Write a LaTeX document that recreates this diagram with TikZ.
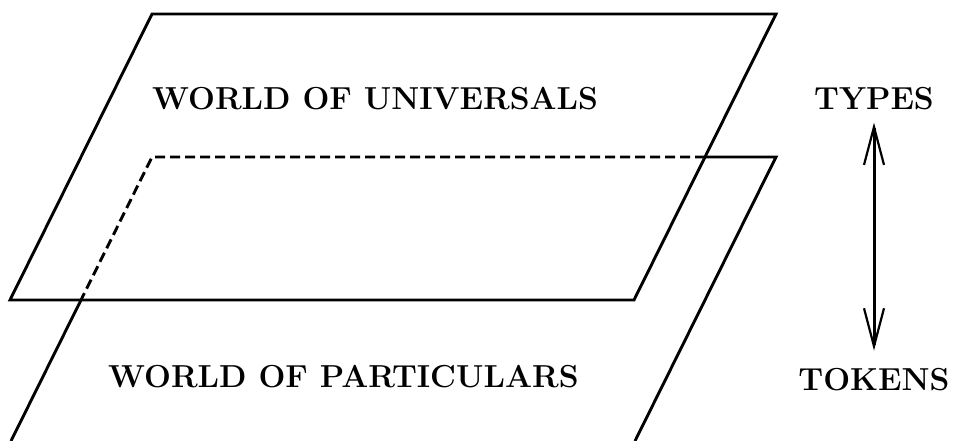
\documentclass[tikz,border=0pt]{standalone}
\usetikzlibrary{arrows.meta,calc,positioning}
\tikzset{
  plane/.style={line width=2.9pt},
  hidden/.style={dash pattern=on 10pt off 5pt},
  label/.style={inner sep=0pt,font=\fontsize{31.8}{38}\selectfont\bfseries}
}
\begin{document}
\begin{tikzpicture}[x=1pt,y=-1pt,>={Straight Barb[length=38pt,width=20pt,line width=2.2pt]}]
\useasboundingbox (0,0) rectangle (954,441);
% upper plane
\coordinate (U1) at (152,14);
\coordinate (U2) at (776,14);
\coordinate (U3) at (634,300);
\coordinate (U4) at (10,300);
% lower plane
\coordinate (L1) at (152,157);
\coordinate (L2) at (776,157);
\coordinate (L3) at (635,441);
\coordinate (L4) at (11,441);
\coordinate (X1) at (intersection of L1--L2 and U2--U3);
\coordinate (X2) at (intersection of L1--L4 and U3--U4);
\draw[plane] (U1)--(U2)--(U3)--(U4)--cycle;
\draw[plane] (X1)--(L2)--(L3);
\draw[plane] (X2)--(L4);
\draw[plane,hidden] (X1)--(L1)--(X2);
% labels
\node[label,anchor=base west] (univ) at (152,110) {WORLD OF UNIVERSALS};
\node[label,anchor=base west] (part) at (108,387) {WORLD OF PARTICULARS};
\node[label,anchor=base] (types) at (874,110) {TYPES};
\node[label,anchor=base] (tokens) at (874,390) {TOKENS};
\draw[<->,line width=3pt,shorten <=12pt,shorten >=17pt] (types.south) -- (tokens.north);
\end{tikzpicture}
\end{document}
